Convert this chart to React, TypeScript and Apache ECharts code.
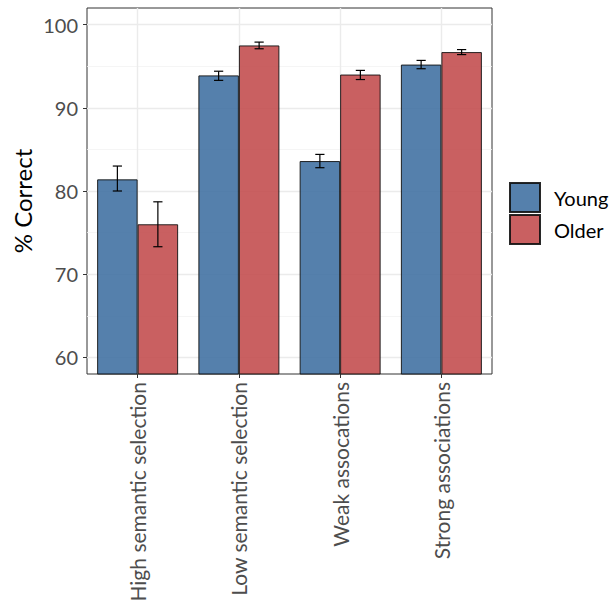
import React, { useEffect, useRef } from "react";
import * as echarts from "echarts";

const categories = [
  "High semantic selection",
  "Low semantic selection",
  "Weak assocations",
  "Strong associations",
];
const young = [81.4, 93.9, 83.6, 95.2];
const older = [76.0, 97.5, 94.0, 96.7];
const youngLow = [80.0, 93.3, 82.8, 94.7];
const youngHigh = [83.0, 94.4, 84.4, 95.7];
const olderLow = [73.3, 97.1, 93.4, 96.4];
const olderHigh = [78.7, 97.9, 94.5, 97.0];
const majorTicks = [60, 70, 80, 90, 100];
const minorTicks = [65, 75, 85, 95];

const FONT = "Lato, 'Open Sans', sans-serif";

function errSeries(name: string, lo: number[], hi: number[], sign: number) {
  return {
    name,
    type: "custom",
    z: 5,
    silent: true,
    data: lo.map((l, i) => [i, l, hi[i]]),
    renderItem: (params: any, api: any) => {
      const idx = api.value(0);
      const band = api.size([1, 0])[0];
      const off = band * 0.2 * sign;
      const p1 = api.coord([idx, api.value(1)]);
      const p2 = api.coord([idx, api.value(2)]);
      const x = p1[0] + off;
      const cw = 4.6;
      const style = { stroke: "#000", lineWidth: 1.2 };
      return {
        type: "group",
        children: [
          { type: "line", shape: { x1: x, y1: p1[1], x2: x, y2: p2[1] }, style },
          { type: "line", shape: { x1: x - cw, y1: p1[1], x2: x + cw, y2: p1[1] }, style },
          { type: "line", shape: { x1: x - cw, y1: p2[1], x2: x + cw, y2: p2[1] }, style },
        ],
      };
    },
  };
}

export default function App() {
  const ref = useRef<HTMLDivElement>(null);
  useEffect(() => {
    document.body.style.margin = "0";
    const chart = echarts.init(ref.current!, null, { renderer: "svg" });
    const option: any = {
      animation: false,
      textStyle: { fontFamily: FONT },
      grid: {
        left: 87,
        top: 8,
        width: 405,
        height: 366,
        show: true,
        borderColor: "#333333",
        borderWidth: 1,
        backgroundColor: "transparent",
      },
      legend: {
        data: ["Young", "Older"],
        orient: "vertical",
        left: 509,
        top: 182,
        padding: 0,
        itemWidth: 30,
        itemHeight: 29,
        itemGap: 1,
        icon: "rect",
        selectedMode: false,
        textStyle: {
          fontSize: 20,
          color: "#000",
          fontFamily: FONT,
          padding: [0, 0, 0, 9],
        },
      },
      xAxis: {
        type: "category",
        data: categories,
        axisLine: { show: false },
        axisTick: {
          show: true,
          alignWithLabel: true,
          length: 4,
          lineStyle: { color: "#333333" },
        },
        axisLabel: {
          rotate: 90,
          fontSize: 21,
          color: "#4d4d4d",
          margin: 8,
          fontFamily: FONT,
        },
        splitLine: { show: false },
      },
      yAxis: {
        type: "value",
        min: 58,
        max: 102,
        axisLine: { show: false },
        axisTick: {
          show: true,
          length: 4,
          customValues: majorTicks,
          lineStyle: { color: "#333333" },
        },
        axisLabel: {
          customValues: majorTicks,
          fontSize: 20,
          color: "#4d4d4d",
          margin: 9,
          fontFamily: FONT,
        },
        splitLine: { show: false },
      },
      graphic: [
        {
          type: "text",
          x: 22,
          y: 201,
          rotation: Math.PI / 2,
          style: {
            text: "% Correct",
            fontSize: 24,
            fontFamily: FONT,
            fill: "#000",
            align: "center",
            verticalAlign: "middle",
          },
        },
      ],
      series: [
        {
          name: "grid",
          type: "line",
          data: [],
          z: 1,
          silent: true,
          markLine: {
            silent: true,
            z: 1,
            symbol: "none",
            label: { show: false },
            data: [
              ...minorTicks.map((v) => ({
                yAxis: v,
                lineStyle: { color: "#f2f2f2", width: 0.8, type: "solid" },
              })),
              ...majorTicks.map((v) => ({
                yAxis: v,
                lineStyle: { color: "#ebebeb", width: 1.4, type: "solid" },
              })),
              ...categories.map((c) => ({
                xAxis: c,
                lineStyle: { color: "#ebebeb", width: 1.4, type: "solid" },
              })),
            ],
          },
        },
        {
          name: "Young",
          type: "bar",
          data: young,
          z: 2,
          barGap: "0%",
          barCategoryGap: "20%",
          itemStyle: {
            color: "#4272a3",
            opacity: 0.9,
            borderColor: "#111",
            borderWidth: 1,
          },
        },
        {
          name: "Older",
          type: "bar",
          data: older,
          z: 2,
          barGap: "0%",
          barCategoryGap: "20%",
          itemStyle: {
            color: "#c34f50",
            opacity: 0.9,
            borderColor: "#111",
            borderWidth: 1,
          },
        },
        errSeries("yErr", youngLow, youngHigh, -1),
        errSeries("oErr", olderLow, olderHigh, 1),
      ],
    };
    chart.setOption(option);
    return () => chart.dispose();
  }, []);
  return <div ref={ref} style={{ width: 614, height: 606 }} />;
}
